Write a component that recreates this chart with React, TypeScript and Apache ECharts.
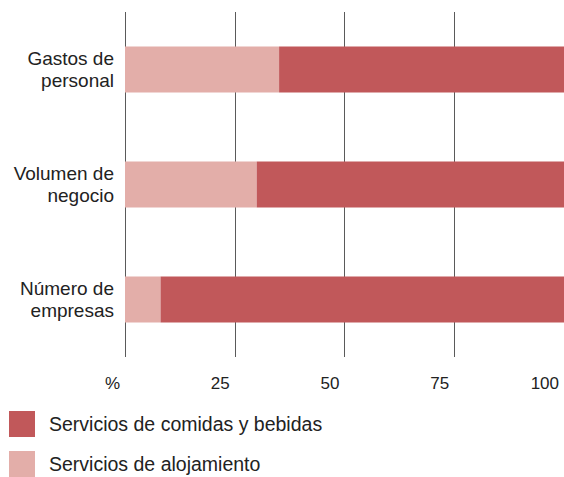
import React, { useEffect, useRef } from "react";
import * as echarts from "echarts";

const categories = ["Gastos de\npersonal", "Volumen de\nnegocio", "Número de\nempresas"];
const alojamiento = [35.1, 30.0, 8.1];
const comidas = [64.9, 70.0, 91.9];
const xTicks = [0, 25, 50, 75, 100];
const seriesNames = ["Servicios de comidas y bebidas", "Servicios de alojamiento"];

const DARK = "#c1585a";
const LIGHT = "#e3aea9";
const FONT = "Liberation Sans";

export default function App() {
  const ref = useRef<HTMLDivElement>(null);
  useEffect(() => {
    const chart = echarts.init(ref.current!, null, { renderer: "svg" });
    chart.setOption({
      animation: false,
      textStyle: { fontFamily: FONT },
      grid: { left: 125, width: 441, top: 12, height: 345, containLabel: false },
      legend: {
        orient: "vertical",
        left: 9,
        top: 411,
        height: 120,
        padding: 0,
        itemWidth: 26,
        itemHeight: 26,
        itemGap: 14,
        icon: "rect",
        data: seriesNames,
        textStyle: { fontSize: 19.5, color: "#222", fontFamily: FONT, padding: [5, 0, 0, 9] },
      },
      xAxis: {
        type: "value",
        min: xTicks[0],
        max: xTicks[xTicks.length - 1],
        interval: 25,
        axisLine: { show: false },
        axisTick: { show: false },
        splitLine: { show: true, lineStyle: { color: "#5a5a5a", width: 1 } },
        axisLabel: {
          fontSize: 17,
          color: "#222",
          fontFamily: FONT,
          align: "right",
          margin: 18,
          padding: [0, 5, 0, 0],
          formatter: (v: number) => (v === 0 ? "%" : String(v)),
        },
      },
      yAxis: {
        type: "category",
        inverse: true,
        data: categories,
        axisLine: { show: false },
        axisTick: { show: false },
        axisLabel: {
          fontSize: 19,
          lineHeight: 22,
          color: "#222",
          fontFamily: FONT,
          margin: 11,
          align: "right",
          padding: [3, 0, 0, 0],
        },
      },
      series: [
        {
          name: seriesNames[1],
          type: "bar",
          stack: "total",
          barWidth: 46,
          data: alojamiento,
          itemStyle: { color: LIGHT },
        },
        {
          name: seriesNames[0],
          type: "bar",
          stack: "total",
          barWidth: 46,
          data: comidas,
          itemStyle: { color: DARK },
        },
      ],
    });
    return () => chart.dispose();
  }, []);
  return <div ref={ref} style={{ width: 564, height: 477, position: "absolute", left: 0, top: 0 }} />;
}
